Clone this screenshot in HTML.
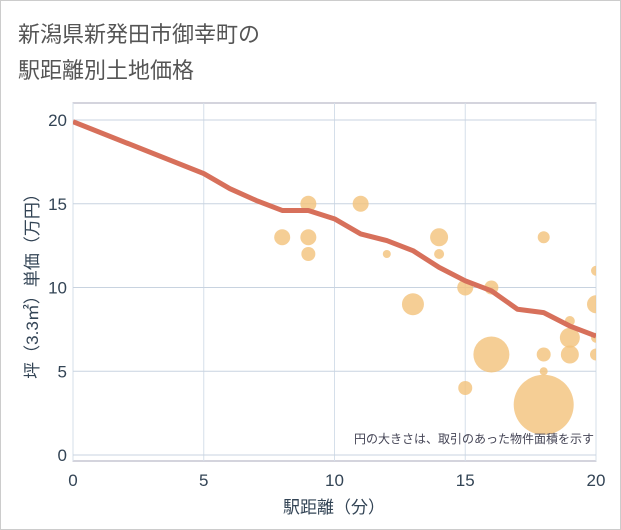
<!DOCTYPE html>
<html><head><meta charset="utf-8"><style>
body{margin:0;background:#fff;font-family:"Liberation Sans","Noto Sans CJK JP",sans-serif;}
#wrap{position:relative;width:619px;height:528px;border:1px solid #ccc;background:#fff;}
</style></head><body>
<div id="wrap">
<svg id="chart" width="621" height="530" style="position:absolute;left:-1px;top:-1px">
<defs><clipPath id="clip"><rect x="73" y="103" width="523" height="358"/></clipPath></defs>
<text x="18" y="42" font-size="22" fill="#555">新潟県新発田市御幸町の</text>
<text x="18" y="78" font-size="22" fill="#555">駅距離別土地価格</text>
<rect x="73" y="103" width="523" height="358" fill="#fff" stroke="#aab"/>
<g id="grid"></g><g id="bubbles" clip-path="url(#clip)"></g><g id="line" clip-path="url(#clip)"></g><g id="ticks"></g>
<text x="594" y="443" font-size="12" fill="#445" text-anchor="end">円の大きさは、取引のあった物件面積を示す</text>
<text x="334" y="513" font-size="17" fill="#345" text-anchor="middle">駅距離（分）</text>
<text transform="translate(38,282) rotate(-90)" font-size="17" fill="#345" text-anchor="middle">坪（3.3㎡）単価（万円）</text>
</svg>
</div>
<script>
const xTicks=[0,5,10,15,20];
const yTicks=[0,5,10,15,20];
const lineX=[0,5,6,7,8,9,10,11,12,13,14,15,16,17,18,19,20];
const lineY=[19.9,16.8,15.9,15.2,14.6,14.6,14.1,13.2,12.8,12.2,11.2,10.4,9.8,8.7,8.5,7.7,7.1];
const bubX=[8,9,9,9,11,12,13,14,14,15,15,16,16,18,18,18,18,19,19,19,20,20,20,20];
const bubY=[13,15,13,12,15,12,9,13,12,10,4,10,6,13,6,5,3,8,7,6,11,9,7,6];
const bubArea=[64,64,64,49,64,16,121,81,25,64,49,49,324,36,49,16,900,25,100,81,25,81,25,36];
const NS="http://www.w3.org/2000/svg";
const sx=v=>73+v*(596-73)/20;
const sy=v=>455-v*(455-120)/20;
const sr=a=>Math.sqrt(a);
function mk(tag,attrs,parent){const e=document.createElementNS(NS,tag);for(const k in attrs)e.setAttribute(k,attrs[k]);parent.appendChild(e);return e;}
const grid=document.getElementById('grid'),ticks=document.getElementById('ticks');
xTicks.forEach(t=>{
 const l=mk('line',{x1:sx(t),x2:sx(t),y1:103,y2:461,stroke:'#d5dfea'},grid);
 
 
 const tx=mk('text',{x:sx(t),y:486,'font-size':17,fill:'#345','text-anchor':'middle'},ticks);
 tx.textContent=t;
 
 
});
yTicks.forEach(t=>{
 const l=mk('line',{x1:73,x2:596,y1:sy(t),y2:sy(t),stroke:'#c8d3e0'},grid);
 
 
 const tx=mk('text',{x:67,y:sy(t)+6,'font-size':17,fill:'#345','text-anchor':'end'},ticks);
 tx.textContent=t;
 
 
});
const bg=document.getElementById('bubbles');
bubX.forEach((x,i)=>{
 const c=mk('circle',{cx:sx(x),cy:sy(bubY[i]),r:sr(bubArea[i]),fill:'#f3c27a','fill-opacity':0.8},bg);
 
 
});
const p=mk('polyline',{points:lineX.map((x,i)=>sx(x)+','+sy(lineY[i])).join(' '),fill:'none',stroke:'#d7705b','stroke-width':5,'stroke-linejoin':'round'},document.getElementById('line'));


</script>
</body></html>
